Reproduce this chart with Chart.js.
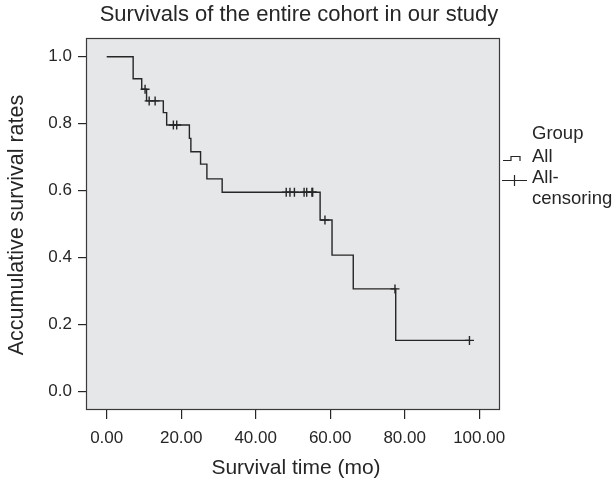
<!DOCTYPE html>
<html>
<head>
<meta charset="utf-8">
<script src="https://cdn.jsdelivr.net/npm/chart.js@4/dist/chart.umd.min.js"></script>
<style>
  html, body { margin: 0; padding: 0; background: #ffffff; }
  #wrap { width: 614px; height: 482px; position: relative; }
</style>
</head>
<body>
<div id="wrap"><canvas id="c" width="614" height="482"></canvas></div>
<script>
// Kaplan-Meier step curve (time in months, cumulative survival after event)
const stepTimes = [0, 7.1, 9.4, 10.7, 15.2, 16.1, 22.2, 22.6, 25.2, 26.9, 31.0, 57.3, 60.5, 66.2, 77.6, 97.4];
const stepSurv  = [1.0, 0.934, 0.903, 0.868, 0.833, 0.796, 0.756, 0.716, 0.679, 0.635, 0.595, 0.512, 0.407, 0.306, 0.152, 0.152];
// Censored observations
const censorTimes = [10.3, 11.4, 13.0, 17.9, 18.8, 48.2, 49.2, 50.4, 53.0, 53.7, 55.1, 55.3, 58.6, 77.4, 97.4];
const censorSurv  = [0.903, 0.868, 0.868, 0.796, 0.796, 0.595, 0.595, 0.595, 0.595, 0.595, 0.595, 0.595, 0.512, 0.306, 0.152];
// Axis ticks
const xTicks = [0, 20, 40, 60, 80, 100];
const yTicks = [0.0, 0.2, 0.4, 0.6, 0.8, 1.0];
// Texts
const titleText = 'Survivals of the entire cohort in our study';
const xTitle = 'Survival time (mo)';
const yTitle = 'Accumulative survival rates';
const legendTitle = 'Group';
const legendLabels = ['All', 'All-', 'censoring'];

const FONT = '"Liberation Sans", Arial, Helvetica, sans-serif';
const INK = '#262626';

const framePlugin = {
  id: 'frame',
  beforeDraw(chart) {
    const a = chart.chartArea, ctx = chart.ctx;
    ctx.save();
    ctx.fillStyle = '#e6e7e9';
    ctx.fillRect(a.left, a.top, a.right - a.left, a.bottom - a.top);
    ctx.restore();
  },
  afterDraw(chart) {
    const a = chart.chartArea, ctx = chart.ctx;
    ctx.save();
    ctx.strokeStyle = '#3a3a3a';
    ctx.lineWidth = 1.2;
    ctx.strokeRect(a.left + 0.5, a.top + 0.5, a.right - a.left - 1, a.bottom - a.top - 1);
    ctx.fillStyle = INK;
    ctx.textAlign = 'center';
    ctx.textBaseline = 'middle';
    // title
    ctx.font = '22px ' + FONT;
    ctx.fillText(titleText, 299, 15);
    // x title
    ctx.font = '21px ' + FONT;
    ctx.fillText(xTitle, 296, 468);
    // y title
    ctx.save();
    ctx.font = '21.5px ' + FONT;
    ctx.translate(17, 225);
    ctx.rotate(-Math.PI / 2);
    ctx.fillText(yTitle, 0, 0);
    ctx.restore();
    // legend
    ctx.font = '18.5px ' + FONT;
    ctx.textAlign = 'left';
    ctx.fillText(legendTitle, 532, 134);
    ctx.fillText(legendLabels[0], 532, 157);
    ctx.fillText(legendLabels[1], 532, 178);
    ctx.fillText(legendLabels[2], 532, 199);
    ctx.strokeStyle = INK;
    ctx.lineWidth = 1.2;
    ctx.beginPath();
    ctx.moveTo(503, 160.5); ctx.lineTo(511, 160.5); ctx.lineTo(511, 156.5);
    ctx.lineTo(520, 156.5); ctx.lineTo(520, 161);
    ctx.stroke();
    ctx.beginPath();
    ctx.moveTo(502, 180.5); ctx.lineTo(527, 180.5);
    ctx.moveTo(514.5, 175); ctx.lineTo(514.5, 186);
    ctx.stroke();
    ctx.restore();
  }
};

new Chart(document.getElementById('c'), {
  type: 'scatter',
  data: {
    datasets: [
      {
        label: 'All',
        type: 'line',
        data: stepTimes.map((t, i) => ({ x: t, y: stepSurv[i] })),
        stepped: 'before',
        borderColor: INK,
        borderWidth: 1.4,
        pointRadius: 0,
        fill: false
      },
      {
        label: 'All-censoring',
        data: censorTimes.map((t, i) => ({ x: t, y: censorSurv[i] })),
        pointStyle: 'cross',
        pointRadius: 4.5,
        pointBorderWidth: 1.4,
        borderColor: INK,
        backgroundColor: INK
      }
    ]
  },
  options: {
    responsive: false,
    animation: false,
    layout: { padding: { left: 0, right: 114, top: 38, bottom: 0 } },
    plugins: { legend: { display: false }, tooltip: { enabled: false }, title: { display: false } },
    scales: {
      x: {
        type: 'linear',
        min: -5.56, max: 105.6,
        afterBuildTicks(s) { s.ticks = xTicks.map(v => ({ value: v })); },
        afterFit(s) { s.height = 72; },
        grid: { drawOnChartArea: false, drawTicks: true, tickLength: 9, color: INK, lineWidth: 1.2 },
        border: { display: false },
        ticks: {
          color: INK, padding: 9, maxRotation: 0, autoSkip: false,
          font: { family: FONT, size: 17 },
          callback: v => Number(v).toFixed(2)
        }
      },
      y: {
        type: 'linear',
        min: -0.056, max: 1.056,
        afterBuildTicks(s) { s.ticks = yTicks.map(v => ({ value: v })); },
        afterFit(s) { s.width = 86; },
        grid: { drawOnChartArea: false, drawTicks: true, tickLength: 8, color: INK, lineWidth: 1.2 },
        border: { display: false },
        ticks: {
          color: INK, padding: 6, autoSkip: false,
          font: { family: FONT, size: 17 },
          callback: v => Number(v).toFixed(1)
        }
      }
    }
  },
  plugins: [framePlugin]
});
</script>
</body>
</html>
